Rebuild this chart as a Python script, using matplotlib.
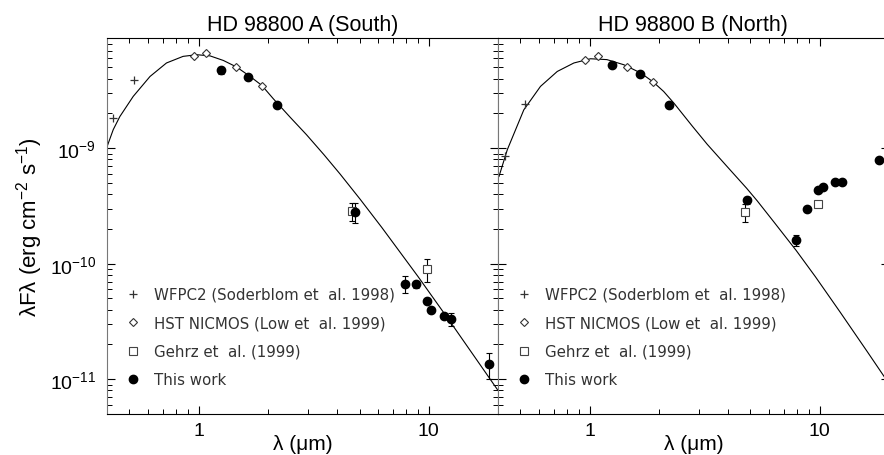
import matplotlib
matplotlib.use('Agg')
import matplotlib.pyplot as plt
import numpy as np
from matplotlib.ticker import LogLocator, NullFormatter, FixedLocator, FixedFormatter

plt.rcParams['font.family'] = ['Liberation Sans', 'DejaVu Sans']
plt.rcParams['mathtext.default'] = 'regular'
plt.rcParams['xtick.direction'] = 'in'
plt.rcParams['ytick.direction'] = 'in'

# ---- HD 98800 A (South) ----
curve_a_wl = [0.40, 0.425, 0.454, 0.519, 0.614, 0.724, 0.855, 0.98, 1.12, 1.28, 1.46, 1.67,
              1.88, 2.11, 2.5, 2.94, 3.5, 4.11, 5.03, 6.25, 8.97, 12.47, 20.0]
curve_a_f = [1.04e-9, 1.45e-9, 1.88e-9, 2.81e-9, 4.18e-9, 5.47e-9, 6.24e-9, 6.45e-9, 6.3e-9,
             5.75e-9, 5.05e-9, 4.19e-9, 3.5e-9, 2.68e-9, 1.85e-9, 1.31e-9, 8.8e-10, 6.0e-10,
             3.62e-10, 2.06e-10, 7.77e-11, 3.09e-11, 8.0e-12]

wfpc_a_wl = [0.425, 0.523, 0.957]
wfpc_a_f = [1.82e-9, 3.92e-9, 6.32e-9]
nic_a_wl = [0.957, 1.076, 1.448, 1.88]
nic_a_f = [6.32e-9, 6.67e-9, 5.0e-9, 3.48e-9]
gehrz_a_wl = [4.66, 9.8]
gehrz_a_f = [2.84e-10, 9.0e-11]
gehrz_a_err = [0.5e-10, 2.05e-11]
this_a_wl = [1.247, 1.643, 2.20, 4.78, 7.88, 8.78, 9.80, 10.27, 11.65, 12.47, 18.2]
this_a_f = [4.72e-9, 4.1e-9, 2.38e-9, 2.78e-10, 6.67e-11, 6.67e-11, 4.78e-11, 4.0e-11,
            3.55e-11, 3.32e-11, 1.35e-11]
this_a_err = [3e-10, 0, 0, 0.55e-10, 1.1e-11, 0.45e-11, 0, 0, 0, 0.42e-11, 0.35e-11]

# ---- HD 98800 B (North) ----
curve_b_wl = [0.404, 0.439, 0.518, 0.612, 0.724, 0.855, 1.01, 1.19, 1.41, 1.67, 1.89, 2.1,
              2.33, 2.8, 3.25, 4.0, 4.82, 5.36, 6.33, 7.92, 9.6, 12.3, 16.1, 20.0]
curve_b_f = [5.7e-10, 9.7e-10, 2.15e-9, 3.43e-9, 4.62e-9, 5.47e-9, 5.95e-9, 5.85e-9, 5.28e-9,
             4.48e-9, 3.75e-9, 3.1e-9, 2.45e-9, 1.55e-9, 1.08e-9, 6.8e-10, 4.5e-10, 3.5e-10,
             2.3e-10, 1.3e-10, 7.7e-11, 3.8e-11, 1.74e-11, 9.2e-12]

wfpc_b_wl = [0.431, 0.523, 1.087]
wfpc_b_f = [8.5e-10, 2.43e-9, 6.24e-9]
nic_b_wl = [0.96, 1.087, 1.458, 1.89]
nic_b_f = [5.8e-9, 6.3e-9, 5.05e-9, 3.71e-9]
gehrz_b_wl = [4.73, 9.83]
gehrz_b_f = [2.8e-10, 3.31e-10]
gehrz_b_err = [0.52e-10, 0]
this_b_wl = [1.255, 1.654, 2.21, 4.82, 7.92, 8.84, 9.83, 10.3, 11.7, 12.55, 18.2]
this_b_f = [5.21e-9, 4.42e-9, 2.38e-9, 3.53e-10, 1.59e-10, 2.97e-10, 4.37e-10, 4.58e-10,
            5.06e-10, 5.13e-10, 7.95e-10]
this_b_err = [0, 0, 0, 0.25e-10, 0.18e-10, 0, 0, 0, 0, 0, 0]

labels = ['WFPC2 (Soderblom et  al. 1998)', 'HST NICMOS (Low et  al. 1999)',
          'Gehrz et  al. (1999)', 'This work']
titles = ['HD 98800 A (South)', 'HD 98800 B (North)']
xticks = [1, 10]
xticklabels = ['1', '10']
yticks = [1e-11, 1e-10, 1e-9]
yticklabels = ['$10^{-11}$', '$10^{-10}$', '$10^{-9}$']

fig = plt.figure(figsize=(8.84, 4.56), dpi=100)
W, H = 884.0, 456.0
ax1 = fig.add_axes([107.2 / W, 41 / H, 390.8 / W, 376 / H])
ax2 = fig.add_axes([498 / W, 41 / H, 390.8 / W, 376 / H])


def errbars(ax, wl, f, err):
    wl, f, err = np.array(wl), np.array(f), np.array(err)
    m = err > 0
    ax.errorbar(wl[m], f[m], yerr=err[m], fmt='none', ecolor='k', elinewidth=0.8,
                capsize=2.5, capthick=0.8, zorder=3)


panels = [
    (ax1, curve_a_wl, curve_a_f, wfpc_a_wl, wfpc_a_f, nic_a_wl, nic_a_f,
     gehrz_a_wl, gehrz_a_f, gehrz_a_err, this_a_wl, this_a_f, this_a_err),
    (ax2, curve_b_wl, curve_b_f, wfpc_b_wl, wfpc_b_f, nic_b_wl, nic_b_f,
     gehrz_b_wl, gehrz_b_f, gehrz_b_err, this_b_wl, this_b_f, this_b_err),
]

for i, (ax, cw, cf, ww, wf, nw, nf, gw, gf, ge, tw, tf, te) in enumerate(panels):
    ax.set_xscale('log')
    ax.set_yscale('log')
    ax.plot(cw, cf, color='k', lw=0.8, zorder=2)
    errbars(ax, gw, gf, ge)
    errbars(ax, tw, tf, te)
    h1, = ax.plot(ww, wf, '+', color='#333333', ms=6, mew=0.9, zorder=4, label=labels[0])
    h2, = ax.plot(nw, nf, 'D', mfc='white', mec='#333333', ms=4.5, mew=0.8, zorder=4, label=labels[1])
    h3, = ax.plot(gw, gf, 's', mfc='white', mec='#444444', ms=6, mew=0.8, zorder=4, label=labels[2])
    h4, = ax.plot(tw, tf, 'o', color='k', ms=6, zorder=5, label=labels[3])

    ax.set_xlim(0.4, 20)
    ax.set_ylim(5e-12, 9e-9)
    ax.xaxis.set_major_locator(FixedLocator(xticks))
    ax.xaxis.set_major_formatter(FixedFormatter(xticklabels))
    ax.xaxis.set_minor_locator(LogLocator(base=10, subs=np.arange(2, 10), numticks=10))
    ax.xaxis.set_minor_formatter(NullFormatter())
    ax.yaxis.set_major_locator(FixedLocator(yticks))
    ax.yaxis.set_major_formatter(FixedFormatter(yticklabels))
    ax.yaxis.set_minor_locator(LogLocator(base=10, subs=np.arange(2, 10), numticks=10))
    ax.yaxis.set_minor_formatter(NullFormatter())
    ax.tick_params(which='both', top=True, right=True, labelsize=14)
    ax.tick_params(axis='y', pad=8)
    ax.tick_params(axis='x', pad=6)
    ax.tick_params(which='major', length=6, width=0.8)
    ax.tick_params(which='minor', length=3.5, width=0.7)
    for side in ['left', 'right']:
        ax.spines[side].set_color('#777777')
    ax.set_title(titles[i], fontsize=15.5, pad=6)
    ax.set_xlabel('λ (μm)', fontsize=15, labelpad=-4)
    leg = ax.legend(handles=[h1, h2, h3, h4], loc='lower left', bbox_to_anchor=(0.035, 0.055),
                    frameon=False, fontsize=10.8, handlelength=0.8, handletextpad=1.0,
                    labelspacing=0.9, borderaxespad=0)
    for t in leg.get_texts():
        t.set_fontfamily('DejaVu Sans')
        t.set_color('#333333')

ax2.tick_params(labelleft=False)
ax1.set_ylabel('λFλ (erg cm$^{-2}$ s$^{-1}$)', fontsize=16, labelpad=3)

fig.savefig('out.png', dpi=100)
